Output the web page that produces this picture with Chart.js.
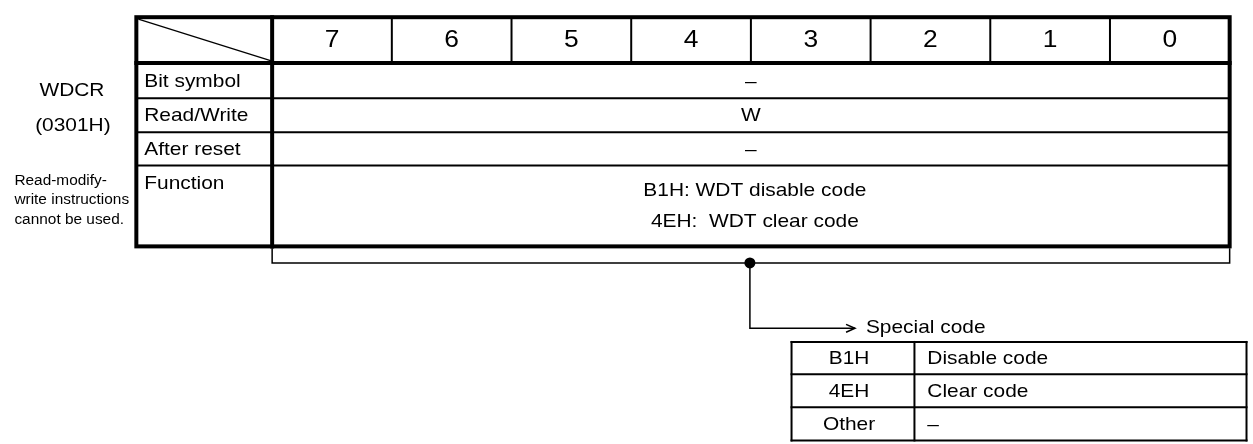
<!DOCTYPE html>
<html>
<head>
<meta charset="utf-8">
<script src="https://cdn.jsdelivr.net/npm/chart.js@4.4.1/dist/chart.umd.min.js"></script>
<style>
  html, body { margin: 0; padding: 0; background: #fff; }
  canvas { display: block; }
</style>
</head>
<body>
<canvas id="regChart" width="1253" height="444"></canvas>
<script>
// register data
const regName = 'WDCR';
const regAddress = '(0301H)';
const regNote = ['Read-modify-', 'write instructions', 'cannot be used.'];
const bitNumbers = ['7', '6', '5', '4', '3', '2', '1', '0'];
const rowLabels = ['Bit symbol', 'Read/Write', 'After reset', 'Function'];
const rowValues = ['–', 'W', '–', ''];
const functionLines = ['B1H: WDT disable code', '4EH:  WDT clear code'];
const codeTitle = 'Special code';
const codeKeys = ['B1H', '4EH', 'Other'];
const codeDescs = ['Disable code', 'Clear code', '–'];

// layout (pixel units of the hidden linear scales)
const W = 1253, H = 444;
const tbl = { left: 132, labelRight: 269, right: 1235, top: 12, headBottom: 59, rows: [59, 95, 130, 164, 247] };
const brk = { y: 264, top: 249, dropX: 751, arrowY: 331, arrowX: 857 };
const codeTbl = { left: 793, split: 917, right: 1252, rows: [345, 378, 412, 446] };
const FONT = '"Liberation Sans", Arial, sans-serif';
const STRETCH = 1.1; // the source text is a bit wider than Arial

const tablePlugin = {
    id: 'registerTable',
    beforeDatasetsDraw(chart) {
        const ctx = chart.ctx;
        const sx = chart.scales.x, sy = chart.scales.y;
        const px = v => sx.getPixelForValue(v);
        const py = v => sy.getPixelForValue(v);

        const line = (x1, y1, x2, y2, w) => {
            ctx.lineWidth = w;
            ctx.beginPath();
            ctx.moveTo(px(x1), py(y1));
            ctx.lineTo(px(x2), py(y2));
            ctx.stroke();
        };
        const text = (s, x, y, size, align) => {
            ctx.save();
            ctx.font = size + 'px ' + FONT;
            ctx.textAlign = align || 'center';
            ctx.textBaseline = 'middle';
            ctx.translate(px(x), py(y));
            ctx.scale(STRETCH, 1);
            ctx.fillText(s, 0, 0);
            ctx.restore();
        };

        ctx.save();
        ctx.strokeStyle = '#000';
        ctx.fillStyle = '#000';
        ctx.lineCap = 'square';

        // main table
        const colW = (tbl.right - tbl.labelRight) / bitNumbers.length;
        for (let i = 1; i < bitNumbers.length; i++) {
            const x = tbl.labelRight + i * colW;
            line(x, tbl.top, x, tbl.headBottom, 2);
        }
        for (let r = 1; r < tbl.rows.length - 1; r++) {
            line(tbl.left, tbl.rows[r], tbl.right, tbl.rows[r], 2);
        }
        ctx.lineCap = 'butt';
        line(tbl.left + 2, tbl.top + 2, tbl.labelRight, tbl.headBottom - 2, 1.3);
        ctx.lineCap = 'square';
        line(tbl.left, tbl.headBottom, tbl.right, tbl.headBottom, 4);
        line(tbl.labelRight, tbl.top, tbl.labelRight, tbl.rows[tbl.rows.length - 1], 4);
        ctx.lineWidth = 4;
        ctx.strokeRect(px(tbl.left), py(tbl.top), px(tbl.right) - px(tbl.left), py(tbl.rows[tbl.rows.length - 1]) - py(tbl.top));

        bitNumbers.forEach((b, i) => {
            text(b, tbl.labelRight + (i + 0.5) * colW, (tbl.top + tbl.headBottom) / 2, 24);
        });
        const midX = (tbl.labelRight + tbl.right) / 2;
        rowLabels.forEach((lab, r) => {
            const y0 = tbl.rows[r], y1 = tbl.rows[r + 1];
            const last = r === rowLabels.length - 1;
            text(lab, tbl.left + 8, last ? y0 + 19 : (y0 + y1) / 2 + 1, 19, 'left');
            if (!last) text(rowValues[r], midX, (y0 + y1) / 2 + 1, 19);
        });
        functionLines.forEach((s, i) => text(s, midX + 4, 190 + i * 32, 19));

        // register name and note
        text(regName, 67, 87, 19);
        text(regAddress, 68, 123, 19);
        regNote.forEach((s, i) => text(s, 9, 180 + i * 20, 14, 'left'));

        // bracket and arrow
        ctx.lineWidth = 1.5;
        ctx.lineCap = 'butt';
        ctx.beginPath();
        ctx.moveTo(px(tbl.labelRight), py(brk.top));
        ctx.lineTo(px(tbl.labelRight), py(brk.y));
        ctx.lineTo(px(tbl.right), py(brk.y));
        ctx.lineTo(px(tbl.right), py(brk.top));
        ctx.stroke();
        ctx.beginPath();
        ctx.moveTo(px(brk.dropX), py(brk.y));
        ctx.lineTo(px(brk.dropX), py(brk.arrowY));
        ctx.lineTo(px(brk.arrowX), py(brk.arrowY));
        ctx.stroke();
        ctx.beginPath();
        ctx.moveTo(px(brk.arrowX - 9), py(brk.arrowY - 4));
        ctx.lineTo(px(brk.arrowX), py(brk.arrowY));
        ctx.lineTo(px(brk.arrowX - 9), py(brk.arrowY + 4));
        ctx.stroke();
        text(codeTitle, brk.arrowX + 11, brk.arrowY - 1, 19, 'left');

        // special code table
        ctx.lineCap = 'square';
        const cr = codeTbl.rows;
        for (let r = 0; r < cr.length; r++) line(codeTbl.left, cr[r], codeTbl.right, cr[r], 2);
        line(codeTbl.left, cr[0], codeTbl.left, cr[cr.length - 1], 2);
        line(codeTbl.split, cr[0], codeTbl.split, cr[cr.length - 1], 2);
        line(codeTbl.right, cr[0], codeTbl.right, cr[cr.length - 1], 2);
        codeKeys.forEach((k, r) => {
            const yc = (cr[r] + cr[r + 1]) / 2 + 1;
            text(k, (codeTbl.left + codeTbl.split) / 2 - 4, yc, 19);
            text(codeDescs[r], codeTbl.split + 13, yc, 19, 'left');
        });
        ctx.restore();
    }
};

new Chart(document.getElementById('regChart'), {
    type: 'scatter',
    data: {
        datasets: [{
            // junction dot of the bracket
            data: [{ x: brk.dropX, y: brk.y }],
            pointRadius: 5.5,
            pointBackgroundColor: '#000',
            pointBorderWidth: 0
        }]
    },
    options: {
        responsive: false,
        animation: false,
        events: [],
        layout: { padding: 0 },
        plugins: { legend: { display: false }, tooltip: { enabled: false } },
        scales: {
            x: { type: 'linear', min: 0, max: W, display: false },
            y: { type: 'linear', min: 0, max: H, reverse: true, display: false }
        }
    },
    plugins: [tablePlugin]
});
</script>
</body>
</html>
